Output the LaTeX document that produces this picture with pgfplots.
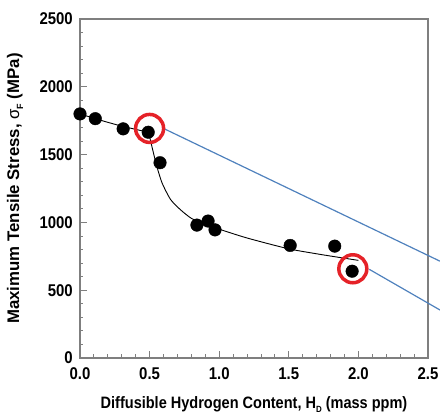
\documentclass[border=0pt]{standalone}
\usepackage{fontspec}
\setmainfont[FakeStretch=0.88]{Liberation Sans}
\newfontfamily\ylabfont{Liberation Sans}
\usepackage{pgfplots}
\usepackage{pgfplotstable}
\pgfplotsset{compat=1.18}
\usetikzlibrary{calc}
\definecolor{frame}{HTML}{7F7F7F}
\definecolor{guide}{HTML}{4F81BD}
\definecolor{ring}{HTML}{E52228}

% measured points
\pgfplotstableread{
h    s
0.00 1800
0.11 1765
0.31 1690
0.49 1665
0.575 1440
0.84 980
0.92 1010
0.97 945
1.51 830
1.83 825
1.955 640
}\measured

% fitted trend curve
\pgfplotstableread{
h    s
0.00 1800
0.10 1768
0.20 1738
0.30 1710
0.40 1686
0.48 1665
0.50 1630
0.52 1545
0.55 1420
0.59 1290
0.65 1170
0.72 1095
0.80 1030
0.90 985
1.00 950
1.20 885
1.50 805
1.75 760
2.00 720
}\trend

\begin{document}
\begin{tikzpicture}
\begin{axis}[
  scale only axis,
  width=348pt, height=339pt,
  xmin=0, xmax=2.5, ymin=0, ymax=2500,
  xtick={0,0.5,1,1.5,2,2.5},
  ytick={0,500,1000,1500,2000,2500},
  minor x tick num=4, minor y tick num=4,
  tick pos=left, tick align=inside,
  major tick length=7pt, minor tick length=3.5pt,
  every tick/.style={frame, line width=0.9pt},
  axis line style={frame, line width=1.3pt},
  clip=false,
  /pgf/number format/assume math mode=true,
  x tick label style={/pgf/number format/fixed, /pgf/number format/fixed zerofill, /pgf/number format/precision=1},
  y tick label style={/pgf/number format/set thousands separator={}},
  tick label style={font=\bfseries\fontsize{17}{17}\selectfont, inner sep=0pt},
  xticklabel style={anchor=base, yshift=-22pt},
  yticklabel style={anchor=east, xshift=-7pt},
  xlabel={Diffusible Hydrogen Content, H\raisebox{-4pt}{\fontsize{9}{9}\selectfont D} (mass ppm)},
  ylabel={\ylabfont Maximum Tensile Stress, {\mdseries σ}\raisebox{-4pt}{\fontsize{9}{9}\selectfont F} (MPa)},
  xlabel style={at={(axis description cs:0.5,-0.1475)}, anchor=base, font=\bfseries\fontsize{16.5}{17}\selectfont},
  ylabel style={at={(axis description cs:-0.187,0.5)}, anchor=center, font=\bfseries\fontsize{16.8}{17}\selectfont},
]
\addplot[black, line width=0.9pt, smooth, tension=0.4, no markers] table[x=h, y=s] {\trend};
\addplot[guide, line width=1.2pt, no markers] coordinates {(0.60,1693) (2.586,714)};
\addplot[guide, line width=1.2pt, no markers] coordinates {(2.078,654) (2.586,354)};
\addplot[only marks, mark=*, mark size=6.3pt, black] table[x=h, y=s] {\measured};
\addplot[only marks, mark=o, mark size=14pt, ring, line width=3.5pt] coordinates {(0.50,1693) (1.96,658)};
\end{axis}
\pgfresetboundingbox
\path ($(current axis.south west)+(-80pt,-57pt)$) rectangle ++(440pt,415pt);
\end{tikzpicture}
\end{document}
